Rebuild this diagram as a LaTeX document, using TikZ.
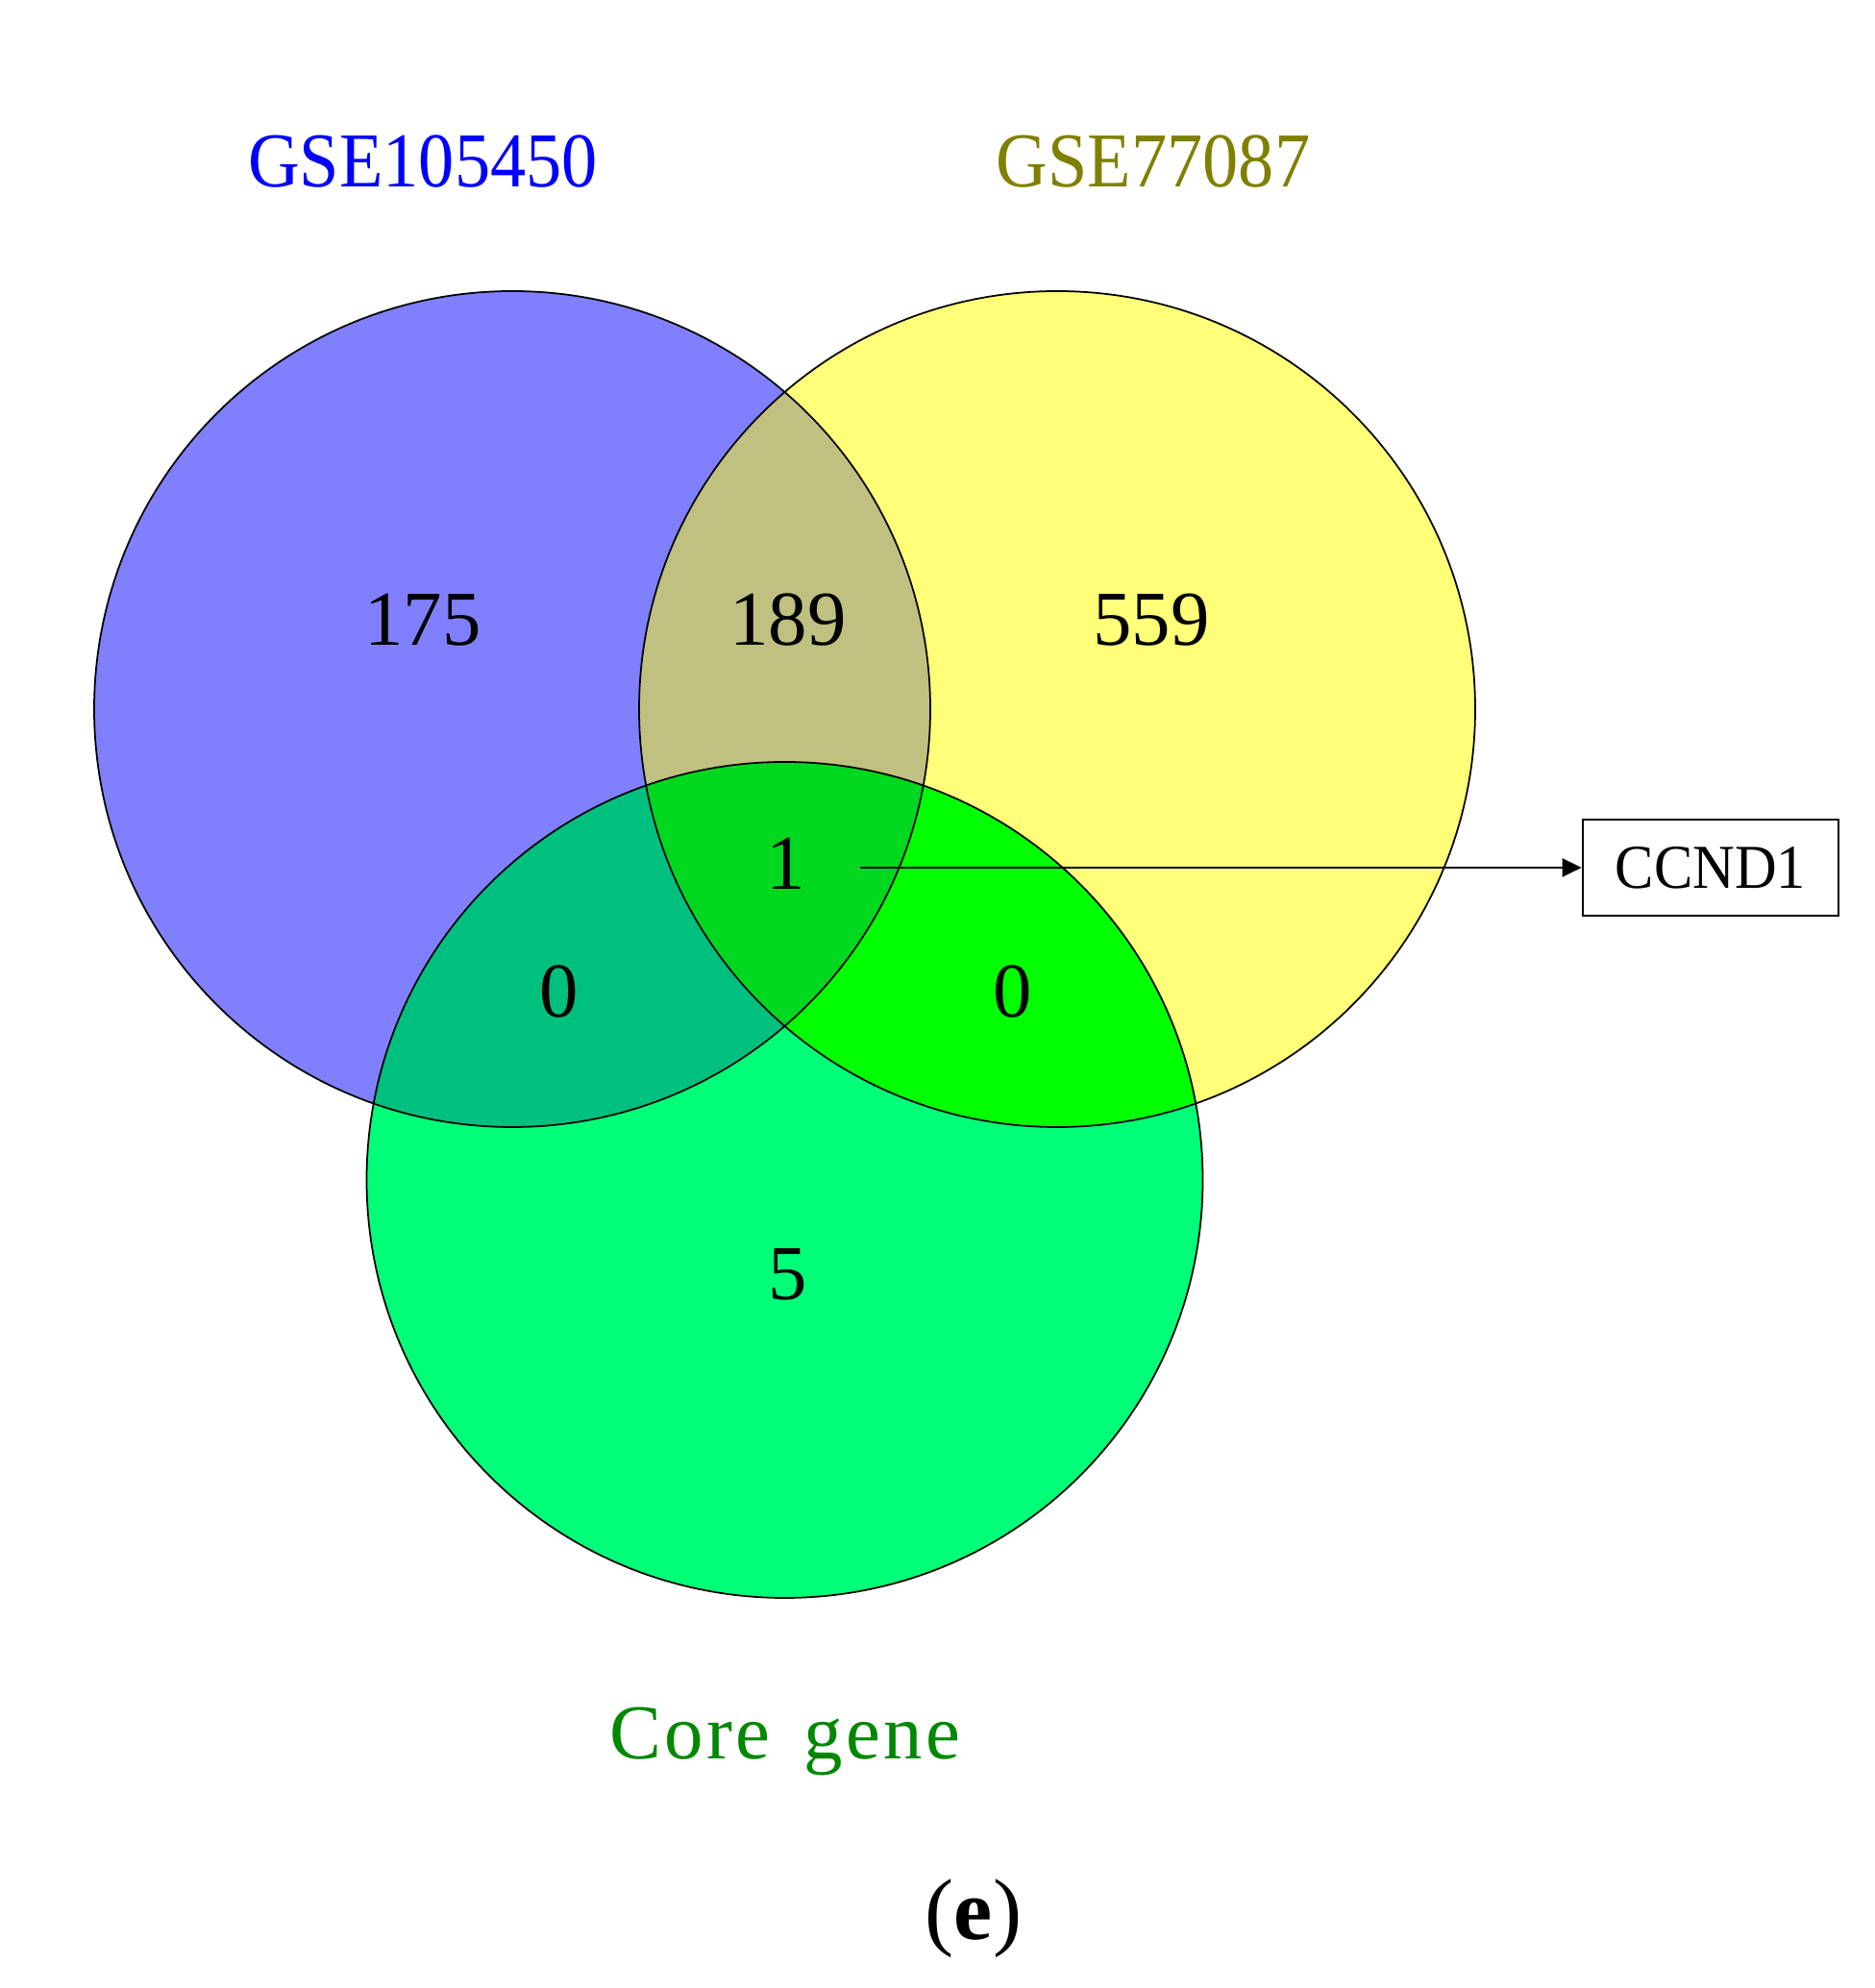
\documentclass[tikz,border=0pt]{standalone}
\usepackage{fontspec}
\setmainfont{Liberation Serif}
\newfontfamily\simfont[FakeStretch=0.92]{Liberation Serif}
\newfontfamily\corefont[LetterSpace=4]{Liberation Serif}
\newfontfamily\genefont[FakeStretch=0.93]{Liberation Serif}
\usetikzlibrary{arrows.meta}

\definecolor{setblue}{RGB}{128,128,255}
\definecolor{setyellow}{RGB}{255,255,120}
\definecolor{setgreen}{RGB}{0,255,120}
\definecolor{blueyellow}{RGB}{192,192,128}
\definecolor{bluegreen}{RGB}{0,192,128}
\definecolor{yellowgreen}{RGB}{0,255,0}
\definecolor{allthree}{RGB}{0,216,32}
\definecolor{olivetext}{RGB}{128,128,0}
\definecolor{coretext}{RGB}{0,136,0}

\begin{document}
\begin{tikzpicture}[
    venn/.style={circle, minimum size=8.7cm, inner sep=0pt},
    count/.style={font=\fontsize{23}{27}\selectfont},
    title/.style={font=\simfont\fontsize{23}{27}\selectfont},
  ]
  \useasboundingbox (0,0) rectangle (19.5,20.69);

  % Sets
  \node[venn, fill=setblue]   at (5.33, 13.31) (a) {};
  \node[venn, fill=setyellow] at (11.00, 13.31) (b) {};
  \node[venn, fill=setgreen]  at (8.165, 8.41)  (c) {};

  % Overlaps
  \begin{scope}
    \clip (a.center) circle (4.35);
    \fill[blueyellow] (b.center) circle (4.35);
    \fill[bluegreen] (c.center) circle (4.35);
  \end{scope}
  \begin{scope}
    \clip (b.center) circle (4.35);
    \fill[yellowgreen] (c.center) circle (4.35);
  \end{scope}
  \begin{scope}
    \clip (a.center) circle (4.35);
    \clip (b.center) circle (4.35);
    \fill[allthree] (c.center) circle (4.35);
  \end{scope}
  \foreach \s in {a,b,c}
    \draw[line width=0.5pt] (\s.center) circle (4.35);

  % Titles
  \node[title, text=blue]       at (4.40, 19.01) (ta) {GSE105450};
  \node[title, text=olivetext]  at (12.00, 19.01) (tb) {GSE77087};
  \node[font=\corefont\fontsize{23}{27}\selectfont, text=coretext, anchor=base] at (8.17, 2.38) (tc) {Core\hspace{0.15em} gene};

  % Counts
  \node[count] at (4.40, 14.24)  (na)   {175};
  \node[count] at (8.20, 14.24)  (nab)  {189};
  \node[count] at (11.98, 14.24) (nb)   {559};
  \node[count] at (8.18, 11.70)  (nabc) {1};
  \node[count] at (5.82, 10.37)  (nac)  {0};
  \node[count] at (10.54, 10.37) (nbc)  {0};
  \node[count] at (8.20, 7.43)   (nc)   {5};

  % Core gene pointer
  \node[draw, line width=0.75pt, minimum width=2.66cm, minimum height=1.0cm, font=\genefont\fontsize{18.5}{22}\selectfont] at (17.80, 11.66) (gene) {CCND1};
  \coordinate (tail) at (8.95, 11.66);
  \draw[line width=0.7pt, -{Triangle[length=2mm, width=1.9mm]}] (tail) -- (gene);

  \node[font=\fontsize{25.7}{30}\selectfont] at (10.13, 0.72) (panel) {(\textbf{e})};
\end{tikzpicture}
\end{document}
